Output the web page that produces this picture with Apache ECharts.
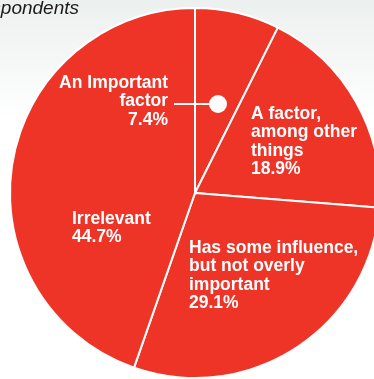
<!DOCTYPE html>
<html>
<head>
<meta charset="utf-8">
<script src="https://cdn.jsdelivr.net/npm/echarts@6/dist/echarts.min.js"></script>
<style>
  html, body { margin: 0; padding: 0; background: #ffffff; }
  #chart { width: 374px; height: 379px; }
</style>
</head>
<body>
<div id="chart"></div>
<script>
// Share of respondents by how much the factor weighs in their decision
const categories = [
  'An Important\nfactor',
  'A factor,\namong other\nthings',
  'Has some influence,\nbut not overly\nimportant',
  'Irrelevant'
];
const shares = [7.4, 18.9, 29.1, 44.7];
const subtitle = 'respondents';

const RED = '#ee3427';
const FONT = 'bold 17.5px "Liberation Sans", Arial, sans-serif';
const cx = 195, cy = 193, R = 185;

// label anchor points (top-left, or top-right for right-aligned text)
const labelSpots = [
  { x: 168, y: 74, align: 'right' },
  { x: 251, y: 105, align: 'left' },
  { x: 189, y: 239, align: 'left' },
  { x: 72, y: 210, align: 'left' }
];

const chart = echarts.init(document.getElementById('chart'), null, { renderer: 'canvas' });

const labelGraphics = categories.map((name, i) => ({
  type: 'text',
  z: 10,
  style: {
    x: labelSpots[i].x,
    y: labelSpots[i].y,
    text: name + '\n' + shares[i].toFixed(1) + '%',
    font: FONT,
    fill: '#ffffff',
    textAlign: labelSpots[i].align,
    textVerticalAlign: 'top',
    lineHeight: 18.3
  }
}));

chart.setOption({
  animation: false,
  graphic: [
    {
      type: 'rect',
      z: -10,
      shape: { x: 0, y: 0, width: 374, height: 379 },
      style: {
        fill: new echarts.graphic.LinearGradient(0, 0, 0, 1, [
          { offset: 0, color: '#ecf0ef' },
          { offset: 0.32, color: '#ffffff' },
          { offset: 1, color: '#ffffff' }
        ])
      }
    },
    {
      type: 'text',
      z: 10,
      style: {
        x: 79, y: 18,
        text: subtitle,
        font: 'italic 19px "Liberation Sans", Arial, sans-serif',
        fill: '#1c1a1b',
        textAlign: 'right',
        textVerticalAlign: 'bottom'
      }
    },
    // leader line and marker for the smallest slice
    {
      type: 'line',
      z: 10,
      shape: { x1: 174, y1: 104, x2: 214, y2: 104 },
      style: { stroke: '#ffffff', lineWidth: 2 }
    },
    {
      type: 'circle',
      z: 10,
      shape: { cx: 218, cy: 104, r: 9 },
      style: { fill: '#ffffff' }
    }
  ].concat(labelGraphics),
  series: [{
    type: 'pie',
    center: [cx, cy],
    radius: [0, R],
    startAngle: 90,
    clockwise: true,
    silent: true,
    label: { show: false },
    labelLine: { show: false },
    itemStyle: { color: RED, borderColor: '#ffffff', borderWidth: 2 },
    data: categories.map((name, i) => ({ name: name, value: shares[i] }))
  }]
});
</script>
</body>
</html>
